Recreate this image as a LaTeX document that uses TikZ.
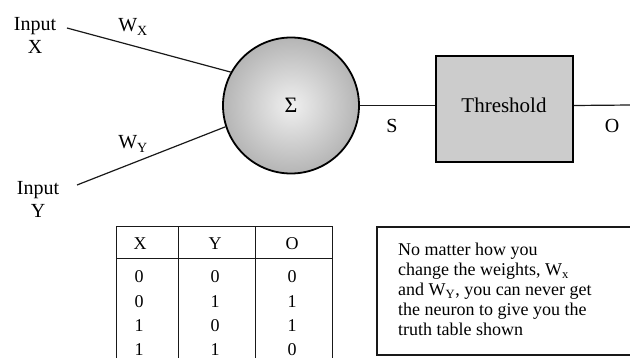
\documentclass[tikz,border=0pt]{standalone}
\usepackage{fontspec}
\setmainfont{Liberation Serif}
\begin{document}
\begin{tikzpicture}[x=1pt,y=-1pt,
  lbl/.style={font=\fontsize{20}{23}\selectfont, inner sep=0pt, align=center},
  wire/.style={line width=1.2pt, draw=black!90},
  cell/.style={font=\fontsize{18}{20}\selectfont, inner sep=0pt},
  tline/.style={line width=1pt, draw=black!90}]
\useasboundingbox (0,0) rectangle (630,358);
\clip (0,0) rectangle (630,358);
% inputs
\node[lbl] (inx) at (35,35) {Input\\X};
\node[lbl] (iny) at (38,199) {Input\\Y};
\coordinate (ax) at (67,28);
\coordinate (ay) at (77,185);
\node[lbl] (wx) at (133,27) {W\textsubscript{X}};
\node[lbl] (wy) at (133,144) {W\textsubscript{Y}};
% sum node
\node[circle, minimum size=136pt, inner sep=0pt, line width=1.8pt, draw=black,
      inner color=gray!12, outer color=gray!58,
      font=\fontsize{22}{24}\selectfont] (sig) at (291,105.5) {Σ};
\draw[wire] (ax) -- (sig.151);
\draw[wire] (ay) -- (sig.198);
% threshold
\node[rectangle, minimum width=137pt, minimum height=106pt, inner sep=0pt,
      line width=1.8pt, draw=black, fill=gray!40, anchor=north west] (thr) at (435,55) {};
\node[font=\fontsize{21}{24}\selectfont, inner sep=0pt] (thrt) at (504,105) {Threshold};
\coordinate (out) at (632,105);
\draw[wire] (sig.east) -- (sig.east -| thr.west);
\draw[wire] (sig.east -| thr.east) -- (out);
\node[lbl] (s) at (392,126) {S};
\node[lbl] (o) at (612,126) {O};
% table
\draw[tline] (116,370) -- (116,227) -- (332,227) -- (332,370);
\draw[tline] (116,259) -- (332,259);
\draw[tline] (178,227) -- (178,370);
\draw[tline] (255,227) -- (255,370);
\node[cell] (hx) at (140,244) {X};
\node[cell] (hy) at (215,244) {Y};
\node[cell] (ho) at (292,244) {O};
\node[cell] (r1a) at (139,277) {0};
\node[cell] (r1b) at (215,277) {0};
\node[cell] (r1c) at (292,277) {0};
\node[cell] (r2a) at (139,301.5) {0};
\node[cell] (r2b) at (215,301.5) {1};
\node[cell] (r2c) at (292,301.5) {1};
\node[cell] (r3a) at (139,326) {1};
\node[cell] (r3b) at (215,326) {0};
\node[cell] (r3c) at (292,326) {1};
\node[cell] (r4a) at (139,350) {1};
\node[cell] (r4b) at (215,350) {1};
\node[cell] (r4c) at (292,350) {0};
% note
\draw[line width=1.2pt, draw=black!90] (640,227) -- (377,227) -- (377,355) -- (640,355);
\node[anchor=north west, align=left, inner sep=0pt,
      font=\fontsize{18}{20}\selectfont] (note) at (398,243)
  {No matter how you\\
   change the weights, W\textsubscript{x}\\
   and W\textsubscript{Y}, you can never get\\
   the neuron to give you the\\
   truth table shown};
\end{tikzpicture}
\end{document}
